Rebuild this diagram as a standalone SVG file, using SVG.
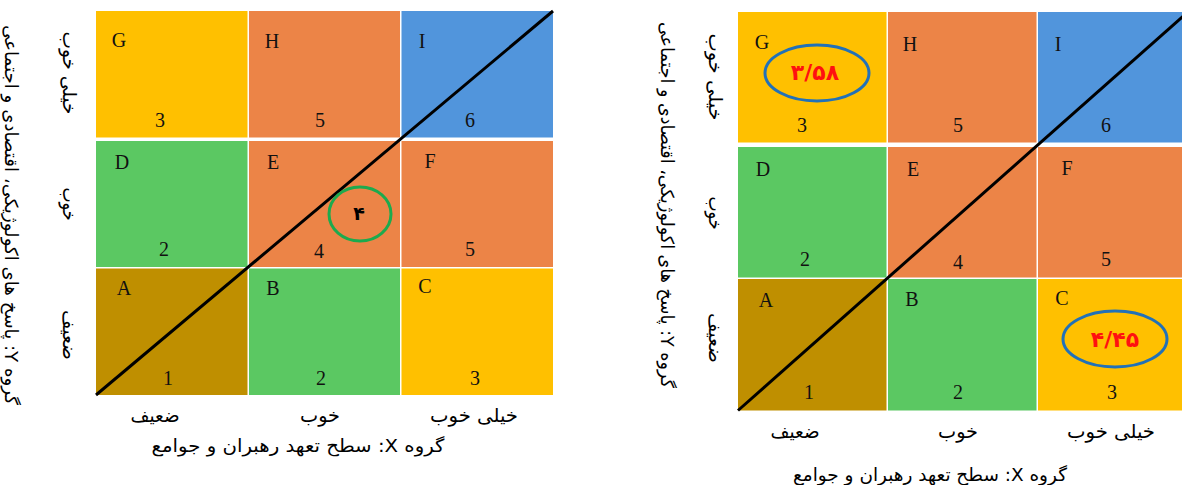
<svg xmlns="http://www.w3.org/2000/svg" width="1182" height="485" viewBox="0 0 1182 485">
<style>
.y{fill:#FFC000}.o{fill:#EC8447}.b{fill:#5195DC}.g{fill:#5BC862}.d{fill:#BF8F00}
.lbl{font-family:"Liberation Serif","Times New Roman",serif;font-size:20px;fill:#111;text-anchor:middle}
.fa{font-family:"DejaVu Sans","Noto Sans",sans-serif;font-size:19px;fill:#000;text-anchor:middle;direction:rtl}
.tt{font-family:"DejaVu Sans","Noto Sans",sans-serif;font-size:18px;fill:#000;text-anchor:middle;direction:rtl}
.val{font-family:"DejaVu Sans","Noto Sans",sans-serif;font-weight:bold;font-size:22px;fill:#FF1010;text-anchor:middle}
.ring{fill:none;stroke:#2271B8;stroke-width:3}
.diag{stroke:#000;stroke-width:3;fill:none}
</style>
<rect width="1182" height="485" fill="#fff"/>
<!-- LEFT GRID -->
<g id="L-G"><rect class="y" x="96" y="11" width="151.5" height="126.5"/><text class="lbl" x="119" y="47">G</text><text class="lbl" x="160" y="127">3</text></g>
<g id="L-H"><rect class="o" x="249" y="11" width="151" height="126.5"/><text class="lbl" x="272" y="48">H</text><text class="lbl" x="320" y="127">5</text></g>
<g id="L-I"><rect class="b" x="401.5" y="11" width="151.5" height="126.5"/><text class="lbl" x="422" y="48">I</text><text class="lbl" x="470" y="127">6</text></g>
<g id="L-D"><rect class="g" x="96" y="141" width="151.5" height="126"/><text class="lbl" x="122" y="169">D</text><text class="lbl" x="164" y="256">2</text></g>
<g id="L-E"><rect class="o" x="249" y="141" width="151" height="126"/><text class="lbl" x="273" y="169">E</text><text class="lbl" x="319" y="258">4</text></g>
<g id="L-F"><rect class="o" x="401.5" y="141" width="151.5" height="126"/><text class="lbl" x="430" y="168">F</text><text class="lbl" x="470" y="256">5</text></g>
<g id="L-A"><rect class="d" x="96" y="268.5" width="151.5" height="126.5"/><text class="lbl" x="124" y="295">A</text><text class="lbl" x="168" y="385">1</text></g>
<g id="L-B"><rect class="g" x="249" y="268.5" width="151" height="126.5"/><text class="lbl" x="273" y="295">B</text><text class="lbl" x="321" y="385">2</text></g>
<g id="L-C"><rect class="y" x="401.5" y="268.5" width="151.5" height="126.5"/><text class="lbl" x="425" y="293">C</text><text class="lbl" x="475" y="385">3</text></g>
<!-- RIGHT GRID -->
<g id="R-G"><rect class="y" x="738" y="12" width="148.5" height="130.5"/><text class="lbl" x="762" y="49">G</text><text class="lbl" x="802" y="132">3</text></g>
<g id="R-H"><rect class="o" x="888" y="12" width="148.5" height="130.5"/><text class="lbl" x="910" y="51">H</text><text class="lbl" x="958" y="132">5</text></g>
<g id="R-I"><rect class="b" x="1038" y="12" width="150" height="130.5"/><text class="lbl" x="1058" y="51">I</text><text class="lbl" x="1106" y="132">6</text></g>
<g id="R-D"><rect class="g" x="738" y="147" width="148.5" height="130.5"/><text class="lbl" x="763" y="176">D</text><text class="lbl" x="805" y="266">2</text></g>
<g id="R-E"><rect class="o" x="888" y="147" width="148.5" height="130.5"/><text class="lbl" x="913" y="176">E</text><text class="lbl" x="958" y="269">4</text></g>
<g id="R-F"><rect class="o" x="1038" y="147" width="150" height="130.5"/><text class="lbl" x="1067" y="175">F</text><text class="lbl" x="1106" y="266">5</text></g>
<g id="R-A"><rect class="d" x="738" y="279" width="148.5" height="131.5"/><text class="lbl" x="766" y="307">A</text><text class="lbl" x="809" y="399">1</text></g>
<g id="R-B"><rect class="g" x="888" y="279" width="148.5" height="131.5"/><text class="lbl" x="912" y="306">B</text><text class="lbl" x="958" y="399">2</text></g>
<g id="R-C"><rect class="y" x="1038" y="279" width="150" height="131.5"/><text class="lbl" x="1062" y="305">C</text><text class="lbl" x="1112" y="399">3</text></g>
<!-- diagonals -->
<g id="connectors">
<line class="diag" x1="96" y1="395" x2="553" y2="11"/>
<line class="diag" x1="738" y1="410.5" x2="1188" y2="12"/>
</g>
<!-- highlights -->
<g id="mark-L-E"><ellipse cx="360" cy="214" rx="31" ry="27" fill="none" stroke="#1DAA4E" stroke-width="3"/><text x="359" y="220" font-family="DejaVu Sans,sans-serif" font-weight="bold" font-size="19" text-anchor="middle" fill="#000">۴</text></g>
<g id="mark-R-G"><ellipse class="ring" cx="817" cy="73" rx="52" ry="28"/><text class="val" x="815" y="80">۳/۵۸</text></g>
<g id="mark-R-C"><ellipse class="ring" cx="1115" cy="339" rx="52" ry="28"/><text class="val" x="1115" y="347">۴/۴۵</text></g>
<!-- left axes -->
<g id="L-xaxis">
<text class="fa" x="155" y="422" textLength="49" lengthAdjust="spacingAndGlyphs">ضعیف</text>
<text class="fa" x="320" y="422" textLength="40" lengthAdjust="spacingAndGlyphs">خوب</text>
<text class="fa" x="474" y="422" textLength="88" lengthAdjust="spacingAndGlyphs">خیلی خوب</text>
<text class="tt" x="298" y="452" textLength="293" lengthAdjust="spacingAndGlyphs">گروه X: سطح تعهد رهبران و جوامع</text>
</g>
<g id="L-yaxis">
<text class="fa" transform="translate(63,73) rotate(90)" textLength="83" lengthAdjust="spacingAndGlyphs">خیلی خوب</text>
<text class="fa" transform="translate(63,204) rotate(90)" textLength="33" lengthAdjust="spacingAndGlyphs">خوب</text>
<text class="fa" transform="translate(63,335) rotate(90)" textLength="50" lengthAdjust="spacingAndGlyphs">ضعیف</text>
<text class="tt" transform="translate(5,215) rotate(90)" textLength="380" lengthAdjust="spacingAndGlyphs">گروه Y: پاسخ های اکولوژیکی، اقتصادی و اجتماعی</text>
</g>
<!-- right axes -->
<g id="R-xaxis">
<text class="fa" x="795" y="438" textLength="49" lengthAdjust="spacingAndGlyphs">ضعیف</text>
<text class="fa" x="958" y="438" textLength="40" lengthAdjust="spacingAndGlyphs">خوب</text>
<text class="fa" x="1111" y="438" textLength="88" lengthAdjust="spacingAndGlyphs">خیلی خوب</text>
<text class="tt" x="930" y="481" textLength="274" lengthAdjust="spacingAndGlyphs">گروه X: سطح تعهد رهبران و جوامع</text>
</g>
<g id="R-yaxis">
<text class="fa" transform="translate(709,77) rotate(90)" textLength="87" lengthAdjust="spacingAndGlyphs">خیلی خوب</text>
<text class="fa" transform="translate(709,213) rotate(90)" textLength="33" lengthAdjust="spacingAndGlyphs">خوب</text>
<text class="fa" transform="translate(709,338) rotate(90)" textLength="50" lengthAdjust="spacingAndGlyphs">ضعیف</text>
<text class="tt" transform="translate(661,205) rotate(90)" textLength="366" lengthAdjust="spacingAndGlyphs">گروه Y: پاسخ های اکولوژیکی، اقتصادی و اجتماعی</text>
</g>
</svg>
